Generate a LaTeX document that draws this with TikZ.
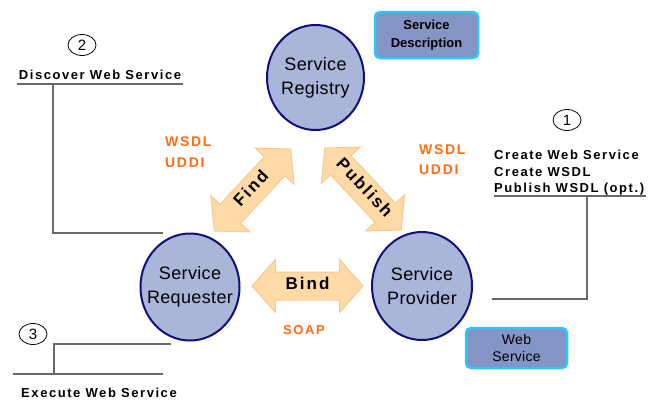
\documentclass[tikz,border=0pt]{standalone}
\usepackage{fontspec}
\setmainfont{Liberation Sans}
\newfontfamily\lblfont{Liberation Sans}[LetterSpace=12]
\newfontfamily\circfont{Liberation Sans}[LetterSpace=2]
\usetikzlibrary{shapes.geometric,shapes.arrows}

\definecolor{circfill}{RGB}{169,181,217}
\definecolor{circline}{RGB}{16,16,122}
\definecolor{arrfill}{RGB}{255,218,166}
\definecolor{arrline}{RGB}{250,200,145}
\definecolor{boxfill}{RGB}{132,148,196}
\definecolor{boxline}{RGB}{40,200,255}
\definecolor{protocol}{RGB}{255,108,20}
\definecolor{leadcol}{RGB}{105,105,105}

\tikzset{
  role/.style={ellipse, draw=circline, line width=2pt, fill=circfill, align=center,
    inner sep=-16pt, font=\circfont\fontsize{18}{24}\selectfont},
  link/.style={double arrow, draw=arrline, line width=1pt, fill=arrfill,
    double arrow head extend=12.5pt, double arrow tip angle=97,
    minimum height=111pt, inner xsep=2pt, inner ysep=7pt,
    text height=10pt, text depth=3pt,
    font=\lblfont\bfseries\fontsize{17}{20}\selectfont},
  tag/.style={rounded corners=5pt, draw=boxline, line width=2.5pt, fill=boxfill,
    align=center, inner sep=0pt},
  num/.style={ellipse, draw, line width=0.8pt, minimum width=28pt, minimum height=21pt,
    inner sep=0pt, font=\fontsize{15}{15}\selectfont},
  lbl/.style={inner sep=0pt, font=\lblfont\bfseries\fontsize{13}{16.5}\selectfont},
  proto/.style={inner sep=0pt, text=protocol, align=left,
    font=\lblfont\bfseries\fontsize{14}{20.5}\selectfont},
  leader/.style={draw=leadcol, line width=1.6pt}
}

\begin{document}
\begin{tikzpicture}[x=1pt,y=-1pt]
  \useasboundingbox[fill=white] (0,0) rectangle (655,400);

  % the three roles
  \node[role, minimum width=97pt, minimum height=105pt] (reg) at (315.5,77.5) {Service\\Registry};
  \node[role, minimum width=99pt, minimum height=107pt] (req) at (190,287) {Service\\Requester};
  \node[role, minimum width=100pt, minimum height=108pt] (prov) at (422,286) {Service\\Provider};

  % interactions between the roles
  \node[link] (bind) at (307.5,286) {Bind};
  \node[link, rotate=47, minimum height=112pt] (find) at (252.5,190) {Find};
  \node[link, rotate=-47, minimum height=112pt] (pub) at (363,189) {Publish};

  % protocols used
  \node[proto, anchor=west] (pfind) at (165,152) {WSDL\\UDDI};
  \node[proto, anchor=west] (ppub) at (419,159.5) {WSDL\\UDDI};
  \node[proto, font=\lblfont\bfseries\fontsize{13}{16}\selectfont] (soap) at (304,330) {SOAP};

  % artefacts
  \node[tag, minimum width=103pt, minimum height=46pt,
        font=\bfseries\fontsize{13}{18}\selectfont] (desc) at (426.5,35) {Service\\Description};
  \node[tag, minimum width=101pt, minimum height=40pt,
        font=\circfont\fontsize{14}{17}\selectfont] (ws) at (516.5,348) {Web\\Service};

  % step 1: provider side
  \node[num] (n1) at (567,120) {1};
  \node[lbl, align=left, anchor=west] (s1) at (494,173)
    {Create Web Service\\Create WSDL\\Publish WSDL (opt.)};
  \coordinate (u1a) at (494,196);
  \coordinate (u1b) at (646,196);
  \coordinate (k1) at (587,196);
  \coordinate (e1) at (492,299);
  \draw[leader] (u1a) -- (u1b);
  \draw[leader] (k1) |- (e1);

  % step 2: discovery
  \node[num] (n2) at (82,45) {2};
  \node[lbl] (s2) at (100,75) {Discover Web Service};
  \coordinate (u2a) at (17,84);
  \coordinate (u2b) at (183,84);
  \coordinate (k2) at (53,84);
  \coordinate (e2) at (163,233);
  \draw[leader] (u2a) -- (u2b);
  \draw[leader] (k2) |- (e2);

  % step 3: execution
  \node[num] (n3) at (33,334) {3};
  \node[lbl] (s3) at (99,393) {Execute Web Service};
  \coordinate (e3) at (171,344);
  \coordinate (k3) at (54,374);
  \coordinate (u3a) at (13,374);
  \coordinate (u3b) at (163,374);
  \draw[leader] (e3) -| (k3);
  \draw[leader] (u3a) -- (u3b);
\end{tikzpicture}
\end{document}
